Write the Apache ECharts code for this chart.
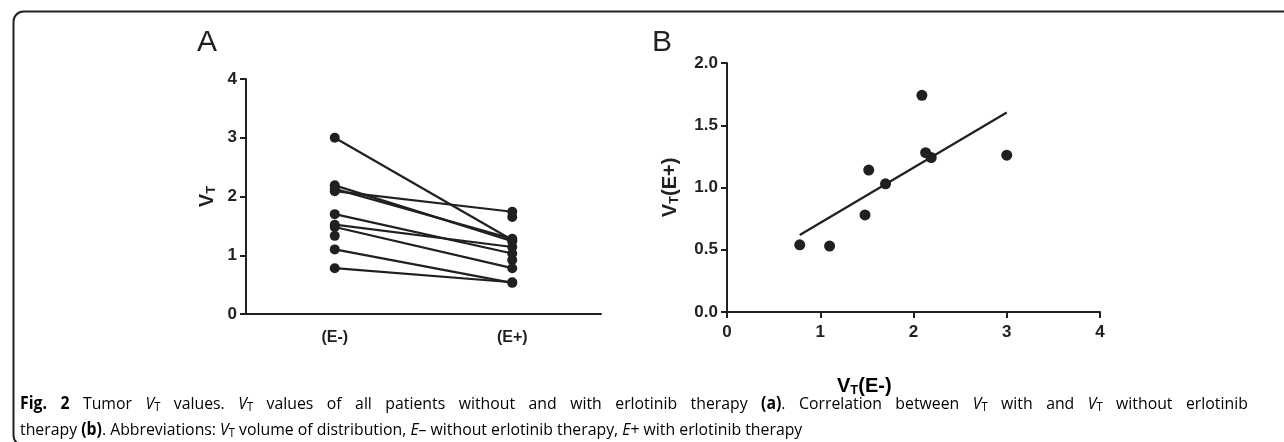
<!DOCTYPE html>
<html>
<head>
<meta charset="utf-8">
<script src="https://cdn.jsdelivr.net/npm/echarts@6/dist/echarts.min.js"></script>
<style>
  html, body { margin: 0; padding: 0; background: #fff; }
  #chart { width: 1284px; height: 442px; }
</style>
</head>
<body>
<div id="chart"></div>
<script>
// panel A categories
var groups = ['(E-)', '(E+)'];
// paired patients: VT without (E-) and with (E+) erlotinib
var vtWithout = [3.00, 2.19, 2.13, 2.09, 1.70, 1.52, 1.48, 1.10, 0.78];
var vtWith = [1.26, 1.24, 1.28, 1.74, 1.03, 1.14, 0.78, 0.53, 0.54];
// unpaired measurements shown only in panel A
var onlyWithout = [1.33];
var onlyWith = [1.65, 0.92];
// tick values
var ticksA = [0, 1, 2, 3, 4];
var ticksBx = [0, 1, 2, 3, 4];
var ticksBy = [0, 0.5, 1.0, 1.5, 2.0];

var ink = '#231f20';
var chart = echarts.init(document.getElementById('chart'));

// least squares fit for panel B
function fitLine(xs, ys) {
  var n = xs.length, mx = 0, my = 0, sxy = 0, sxx = 0;
  for (var i = 0; i < n; i++) { mx += xs[i]; my += ys[i]; }
  mx /= n; my /= n;
  for (var j = 0; j < n; j++) {
    sxy += (xs[j] - mx) * (ys[j] - my);
    sxx += (xs[j] - mx) * (xs[j] - mx);
  }
  var b = sxy / sxx;
  return { slope: b, icpt: my - b * mx };
}
var fit = fitLine(vtWithout, vtWith);
var xLo = Math.min.apply(null, vtWithout), xHi = Math.max.apply(null, vtWithout);

var dot = { color: ink, opacity: 1 };
var series = [];
vtWithout.forEach(function (v, i) {
  series.push({
    type: 'line', xAxisIndex: 0, yAxisIndex: 0,
    data: [v, vtWith[i]],
    symbol: 'circle', symbolSize: 10,
    itemStyle: dot,
    lineStyle: { color: ink, width: 2.2 },
    animation: false, silent: true
  });
});
var loose = onlyWithout.map(function (v) { return [groups[0], v]; })
  .concat(onlyWith.map(function (v) { return [groups[1], v]; }));
series.push({
  type: 'scatter', xAxisIndex: 0, yAxisIndex: 0, data: loose,
  symbolSize: 10, itemStyle: dot, animation: false
});
series.push({
  type: 'scatter', xAxisIndex: 1, yAxisIndex: 1,
  data: vtWithout.map(function (v, i) { return [v, vtWith[i]]; }),
  symbolSize: 11, itemStyle: dot, animation: false
});
series.push({
  type: 'line', xAxisIndex: 1, yAxisIndex: 1,
  data: [[xLo, fit.icpt + fit.slope * xLo], [xHi, fit.icpt + fit.slope * xHi]],
  symbol: 'none', lineStyle: { color: ink, width: 2.2 }, animation: false
});

var lblStyle = { color: ink, fontFamily: 'Liberation Sans', fontWeight: 'bold', fontSize: 17 };
var axisLn = { lineStyle: { color: ink, width: 2 } };
var tick = { length: 6, lineStyle: { color: ink, width: 2 } };
var subRich = {
  v: { fontFamily: 'Liberation Sans', fontWeight: 'bold', fontSize: 20, color: ink },
  s: { fontFamily: 'Liberation Sans', fontWeight: 'bold', fontSize: 13, color: ink, padding: [9, 0, 0, 0] }
};

var capBase = { fontFamily: 'Open Sans', fontSize: 17, color: '#3a3a3a', lineHeight: 26 };
function cs(extra) { return Object.assign({}, capBase, extra || {}); }
var capRich = {
  n: cs(),
  w: cs({ width: 14.5 }), // widened gap: first line is justified
  b: cs({ fontWeight: 'bold', color: '#231f20' }),
  i: cs({ fontStyle: 'italic' }),
  s: cs({ fontSize: 12, padding: [7, 0, 0, 0] })
};
var capLine1 = ['{b|Fig.}', '{b|2}', '{n|Tumor}', '{i|V}{s|T}', '{n|values.}', '{i|V}{s|T}', '{n|values}', '{n|of}', '{n|all}',
  '{n|patients}', '{n|without}', '{n|and}', '{n|with}', '{n|erlotinib}', '{n|therapy}', '{b|(a)}{n|.}', '{n|Correlation}',
  '{n|between}', '{i|V}{s|T}', '{n|with}', '{n|and}', '{i|V}{s|T}', '{n|without}', '{n|erlotinib}'].join('{w| }');
var capLine2 = '{n|therapy }{b|(b)}{n|. Abbreviations: }{i|V}{s|T}{n| volume of distribution, }{i|E}{n|– without erlotinib therapy, }{i|E}{n|+ with erlotinib therapy}';

chart.setOption({
  backgroundColor: '#fff',
  grid: [
    { left: 246, top: 79, width: 355, height: 235 },
    { left: 727, top: 63, width: 373, height: 249 }
  ],
  xAxis: [
    {
      gridIndex: 0, type: 'category', data: groups, boundaryGap: true,
      axisLine: axisLn, axisTick: Object.assign({ alignWithLabel: true }, tick),
      axisLabel: Object.assign({}, lblStyle, { margin: 16, fontSize: 16 }),
      splitLine: { show: false }
    },
    {
      gridIndex: 1, type: 'value', min: ticksBx[0], max: ticksBx[ticksBx.length - 1], interval: 1,
      axisLine: axisLn, axisTick: tick,
      axisLabel: Object.assign({ margin: 12 }, lblStyle),
      splitLine: { show: false }
    }
  ],
  yAxis: [
    {
      gridIndex: 0, type: 'value', min: ticksA[0], max: ticksA[ticksA.length - 1], interval: 1,
      axisLine: { show: true, lineStyle: { color: ink, width: 2 } }, axisTick: { show: true, length: 6, lineStyle: { color: ink, width: 2 } },
      axisLabel: Object.assign({ margin: 9 }, lblStyle),
      splitLine: { show: false },
      name: '{v|V}{s|T}', nameLocation: 'middle', nameGap: 28, nameRotate: 90,
      nameTextStyle: { rich: subRich }
    },
    {
      gridIndex: 1, type: 'value', min: ticksBy[0], max: ticksBy[ticksBy.length - 1], interval: 0.5,
      axisLine: { show: true, lineStyle: { color: ink, width: 2 } }, axisTick: { show: true, length: 6, lineStyle: { color: ink, width: 2 } },
      axisLabel: Object.assign({ margin: 9, formatter: function (v) { return v.toFixed(1); } }, lblStyle),
      splitLine: { show: false },
      name: '{v|V}{s|T}{v|(E+)}', nameLocation: 'middle', nameGap: 46, nameRotate: 90,
      nameTextStyle: { rich: subRich }
    }
  ],
  graphic: [
    {
      type: 'rect', left: 11, top: 9, silent: true,
      shape: { width: 1300, height: 434, r: 10 },
      style: { fill: 'none', stroke: ink, lineWidth: 2 }
    },
    { type: 'text', left: 197, top: 28, style: { text: 'A', fontFamily: 'Liberation Sans', fontSize: 30, fill: ink } },
    { type: 'text', left: 652, top: 28, style: { text: 'B', fontFamily: 'Liberation Sans', fontSize: 30, fill: ink } },
    { type: 'text', left: 837, top: 376, style: { text: '{v|V}{s|T}{v|(E-)}', rich: subRich } },
    { type: 'text', left: 20, top: 395, scaleX: 0.93, style: { text: capLine1 + '\n' + capLine2, rich: capRich } }
  ],
  series: series
});
</script>
</body>
</html>
